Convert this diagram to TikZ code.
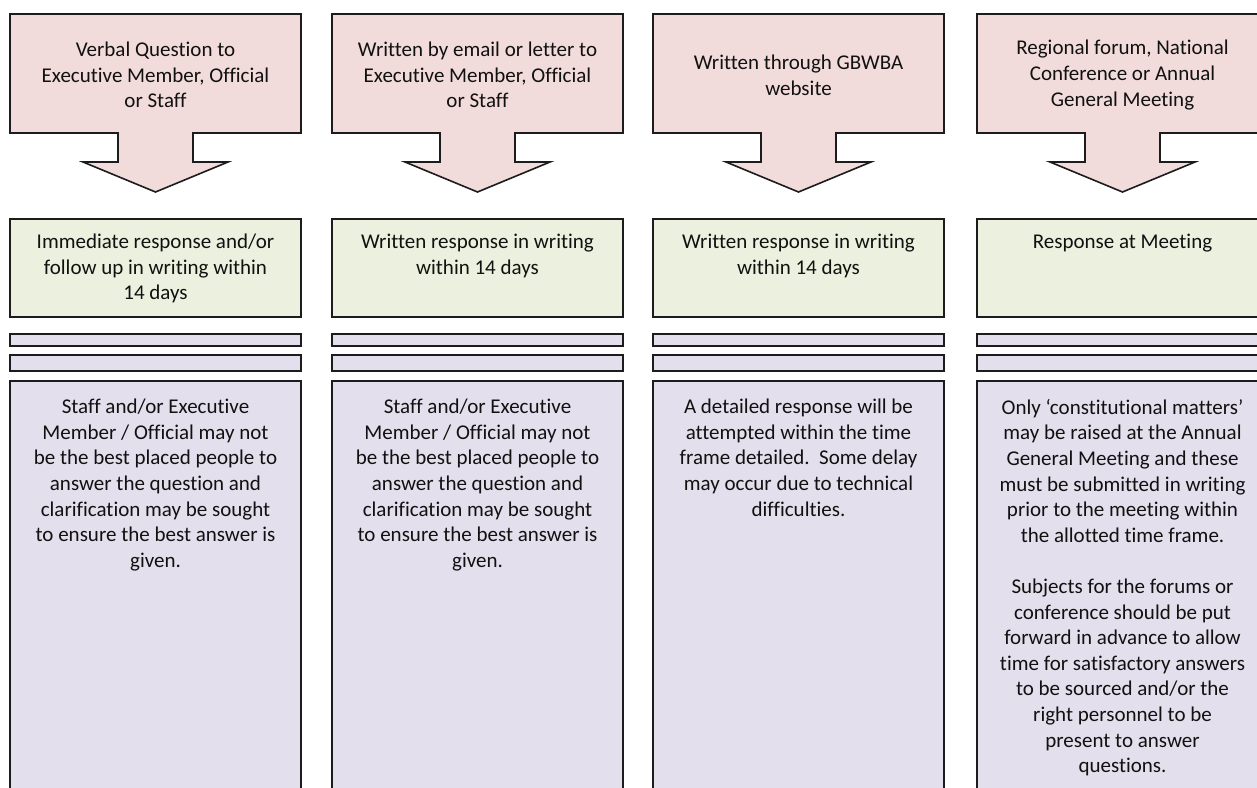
\documentclass[tikz,border=0pt]{standalone}
\usepackage{fontspec}
\setmainfont{Carlito}[Ligatures={NoCommon,NoRare,NoContextual}]
\definecolor{pinkf}{HTML}{F2DCDB}
\definecolor{greenf}{HTML}{EBF1DE}
\definecolor{lavf}{HTML}{E4DFEC}
\definecolor{edgec}{HTML}{1C1C1C}
\definecolor{txtc}{HTML}{111111}
\tikzset{
  callout/.style={draw=edgec, fill=pinkf, line width=1.6pt, line join=miter},
  boxbase/.style={draw=edgec, line width=1.6pt, rectangle, inner sep=0pt, outer sep=0pt, minimum width=291pt, anchor=north west},
  gbox/.style={boxbase, fill=greenf, minimum height=98pt},
  lbox/.style={boxbase, fill=lavf},
  txt/.style={align=center, inner sep=0pt, text=txtc, font=\fontsize{21}{25.6}\selectfont},
}
\newcommand{\mkcol}[5]{%
\begin{scope}[xshift=#2pt]
  \draw[callout] (0,14) -- (291,14) -- (291,133) -- (183,133) -- (183,162) -- (218,162) -- (145.5,192) -- (73,162) -- (108,162) -- (108,133) -- (0,133) -- cycle;
  \node[txt] (#1q) at (145.5,75) {#3};
  \node[gbox] (#1g) at (0,219) {};
  \node[txt, anchor=north] (#1gt) at (145.5,234) {#4};
  \node[lbox, minimum height=12pt] (#1b1) at (0,334) {};
  \node[lbox, minimum height=16pt] (#1b2) at (0,355) {};
  \node[lbox, minimum height=440pt] (#1d) at (0,381) {};
  \node[txt, anchor=north] (#1dt) at (145.5,399) {#5};
\end{scope}}
\begin{document}
\begin{tikzpicture}[x=1pt, y=-1pt]
\useasboundingbox (0,0) rectangle (1257,787);
\clip (0,0) rectangle (1257,787);
\fill[white] (0,0) rectangle (1257,787);
\mkcol{a}{10}{Verbal Question to\\Executive Member, Official\\or Staff}{Immediate response and/or\\follow up in writing within\\14 days}{Staff and/or Executive\\Member / Official may not\\be the best placed people to\\answer the question and\\clarification may be sought\\to ensure the best answer is\\given.}
\mkcol{b}{332}{Written by email or letter to\\Executive Member, Official\\or Staff}{Written response in writing\\within 14 days}{Staff and/or Executive\\Member / Official may not\\be the best placed people to\\answer the question and\\clarification may be sought\\to ensure the best answer is\\given.}
\mkcol{c}{653}{Written through GBWBA\\website}{Written response in writing\\within 14 days}{A detailed response will be\\attempted within the time\\frame detailed.\ \ Some delay\\may occur due to technical\\difficulties.}
\mkcol{d}{977}{Regional forum, National\\Conference or Annual\\General Meeting}{Response at Meeting}{Only ‘constitutional matters’\\may be raised at the Annual\\General Meeting and these\\must be submitted in writing\\prior to the meeting within\\the allotted time frame.\\[25.6pt]Subjects for the forums or\\conference should be put\\forward in advance to allow\\time for satisfactory answers\\to be sourced and/or the\\right personnel to be\\present to answer\\questions.}
\end{tikzpicture}
\end{document}
